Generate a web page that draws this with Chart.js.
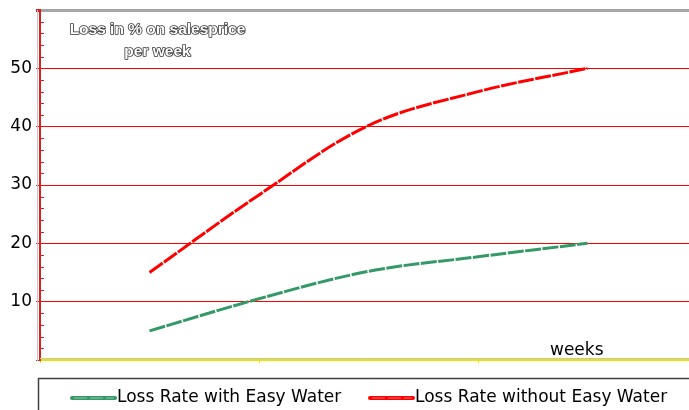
<!DOCTYPE html>
<html>
<head>
<meta charset="utf-8">
<script src="https://cdn.jsdelivr.net/npm/chart.js@4"></script>
<style>
html,body{margin:0;padding:0;background:#fff;overflow:hidden;}
#wrap{width:689px;height:410px;position:relative;}
</style>
</head>
<body>
<div id="wrap"><canvas id="c" width="689" height="410"></canvas></div>
<script>
const weeks = [1, 2, 3, 4, 5];
const withEasyWater = [5, 10.5, 15.2, 17.7, 20];
const withoutEasyWater = [15, 28.3, 40.2, 46, 50];
const seriesNames = ['Loss Rate with Easy Water', 'Loss Rate without Easy Water'];
const seriesColors = ['#339966', '#ff0000'];
const yMajorLabels = [10, 20, 30, 40, 50];
const titleLines = ['Loss in % on salesprice', 'per week'];
const xAxisLabel = 'weeks';

const toPoints = arr => arr.map((v, i) => ({x: weeks[i], y: v}));

const decor = {
  id: 'decor',
  beforeDatasetsDraw(chart) {
    const ctx = chart.ctx, ya = chart.scales.y, ca = chart.chartArea;
    ctx.save();
    ctx.strokeStyle = '#c4c4c4';
    ctx.lineWidth = 1;
    ctx.beginPath();
    ctx.moveTo(ca.left - 2.5, ca.top); ctx.lineTo(ca.left - 2.5, ca.bottom + 1);
    ctx.stroke();
    ctx.beginPath();
    ctx.moveTo(ca.left, ca.bottom - 1.5); ctx.lineTo(ca.right, ca.bottom - 1.5);
    ctx.stroke();
    ctx.strokeStyle = '#e02020';
    ctx.lineWidth = 1;
    for (let v = 2; v < 60; v += 2) {
      if (v % 10 === 0) continue;
      const y = Math.round(ya.getPixelForValue(v)) + 0.5;
      ctx.beginPath();
      ctx.moveTo(ca.left, y); ctx.lineTo(ca.left + 4, y);
      ctx.stroke();
    }
    ctx.restore();
  },
  afterDraw(chart) {
    const ctx = chart.ctx;
    ctx.save();
    ctx.font = 'bold 15.5px "Liberation Sans", Arial, sans-serif';
    ctx.textAlign = 'center';
    ctx.textBaseline = 'middle';
    ctx.lineJoin = 'round';
    titleLines.forEach((t, i) => {
      const y = 30 + i * 22;
      ctx.strokeStyle = '#333';
      ctx.lineWidth = 1.6;
      ctx.strokeText(t, 157.5, y);
      ctx.fillStyle = '#fff';
      ctx.fillText(t, 157.5, y);
    });
    ctx.font = '17px "DejaVu Sans", sans-serif';
    ctx.fillStyle = '#000';
    ctx.textAlign = 'left';
    ctx.textBaseline = 'alphabetic';
    ctx.fillText(xAxisLabel, 550, 355);
    ctx.strokeStyle = '#404040';
    ctx.lineWidth = 1.5;
    ctx.strokeRect(38.5, 378.5, 700, 60);
    const starts = [72, 370];
    chart.data.datasets.forEach((ds, i) => {
      const x0 = starts[i], y = 398;
      ctx.strokeStyle = ds.borderColor;
      ctx.lineWidth = 4;
      ctx.lineCap = 'round';
      ctx.beginPath(); ctx.moveTo(x0, y); ctx.lineTo(x0 + 43, y); ctx.stroke();
      ctx.strokeStyle = 'rgba(255,255,255,0.45)';
      ctx.lineWidth = 1;
      ctx.lineCap = 'butt';
      ctx.setLineDash([13, 3]);
      ctx.beginPath(); ctx.moveTo(x0 + 2, y); ctx.lineTo(x0 + 42, y); ctx.stroke();
      ctx.setLineDash([]);
      ctx.fillStyle = '#000';
      ctx.font = '17px "DejaVu Sans", sans-serif';
      ctx.textBaseline = 'middle';
      ctx.fillText(ds.label, x0 + 45, y);
    });
    ctx.restore();
  }
};

new Chart(document.getElementById('c'), {
  type: 'line',
  data: {
    datasets: [
      {label: seriesNames[0], data: toPoints(withEasyWater), borderColor: seriesColors[0],
       borderWidth: 3, borderDash: [16, 1.5], pointRadius: 0, tension: 0.35, fill: false},
      {label: seriesNames[1], data: toPoints(withoutEasyWater), borderColor: seriesColors[1],
       borderWidth: 3, borderDash: [16, 1.5], pointRadius: 0, tension: 0.35, fill: false}
    ]
  },
  options: {
    responsive: false,
    animation: false,
    layout: {padding: {top: 10, bottom: 47, left: 0, right: 0}},
    plugins: {legend: {display: false}, title: {display: false}, tooltip: {enabled: false}},
    scales: {
      x: {
        type: 'linear', min: 0, max: 649 / 109.5,
        afterBuildTicks: s => { s.ticks = s.ticks.filter(t => t.value % 2 === 0); },
        afterFit: s => { s.height = 3; s.paddingLeft = 0; s.paddingRight = 0; },
        ticks: {display: false, stepSize: 2},
        border: {color: '#e6e600', width: 2},
        grid: {drawOnChartArea: false, drawTicks: true, tickLength: 3, color: '#e6e600'}
      },
      y: {
        min: 0, max: 60,
        afterFit: s => { s.width = 40; s.paddingTop = 0; s.paddingBottom = 0; },
        ticks: {
          stepSize: 2, autoSkip: false, padding: 4, color: '#000',
          font: {family: '"DejaVu Sans", sans-serif', size: 17},
          callback: v => yMajorLabels.includes(v) ? String(v) : ''
        },
        border: {color: '#e02020', width: 2},
        grid: {
          drawTicks: true, tickLength: 4,
          tickColor: c => (c.tick && c.tick.value % 10 === 0) ? '#e02020' : 'rgba(0,0,0,0)',
          color: c => {
            const v = c.tick ? c.tick.value : null;
            if (v === 60) return '#a6a6a6';
            if (yMajorLabels.includes(v)) return '#ff0000';
            return 'rgba(0,0,0,0)';
          },
          lineWidth: c => (c.tick && c.tick.value === 60) ? 3 : 1
        }
      }
    }
  },
  plugins: [decor]
});
</script>
</body>
</html>
